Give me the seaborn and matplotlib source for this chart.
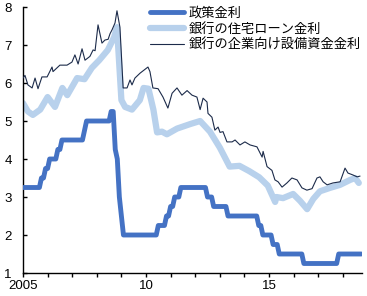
import numpy as np
import pandas as pd
import matplotlib
matplotlib.use("Agg")
import matplotlib.pyplot as plt
import seaborn as sns

# ---- data ----
labels = ["政策金利", "銀行の住宅ローン金利", "銀行の企業向け設備資金金利"]

# policy rate, monthly from Jan 2005 to Oct 2018
policy_rate = (
    [3.25] * 9 + [3.50, 3.50, 3.75] +                      # 2005
    [3.75, 4.00, 4.00, 4.00, 4.00, 4.25, 4.25] + [4.50] * 5 +  # 2006
    [4.50] * 6 + [4.75] + [5.00] * 5 +                      # 2007
    [5.00] * 7 + [5.25, 5.25, 4.25, 4.00, 3.00] +           # 2008
    [2.50] + [2.00] * 11 +                                  # 2009
    [2.00] * 6 + [2.25] * 4 + [2.50] * 2 +                  # 2010
    [2.75] * 2 + [3.00] * 3 + [3.25] * 7 +                  # 2011
    [3.25] * 6 + [3.00] * 3 + [2.75] * 3 +                  # 2012
    [2.75] * 4 + [2.50] * 8 +                               # 2013
    [2.50] * 7 + [2.25] * 2 + [2.00] * 3 +                  # 2014
    [2.00] * 2 + [1.75] * 3 + [1.50] * 7 +                  # 2015
    [1.50] * 5 + [1.25] * 7 +                               # 2016
    [1.25] * 10 + [1.50] * 2 +                              # 2017
    [1.50] * 10                                             # 2018
)

mortgage_year = [2005.0, 2005.2, 2005.4, 2005.7, 2006.0, 2006.3, 2006.6, 2006.8,
                 2007.2, 2007.5, 2007.8, 2008.1, 2008.45, 2008.7, 2008.82, 2009.0,
                 2009.15, 2009.43, 2009.75, 2009.9, 2010.1, 2010.3, 2010.45, 2010.65,
                 2010.85, 2011.26, 2011.8, 2012.2, 2012.6, 2013.0, 2013.4, 2013.8,
                 2014.2, 2014.6, 2014.95, 2015.25, 2015.3, 2015.57, 2015.98, 2016.26,
                 2016.55, 2016.8, 2017.07, 2017.48, 2017.89, 2018.3, 2018.5, 2018.65]
mortgage_rate = [5.47, 5.25, 5.16, 5.30, 5.63, 5.37, 5.87, 5.68,
                 6.13, 6.10, 6.40, 6.60, 6.87, 7.20, 7.47, 5.55,
                 5.37, 5.30, 5.55, 5.87, 5.85, 5.30, 4.70, 4.72,
                 4.65, 4.80, 4.92, 5.00, 4.72, 4.30, 3.80, 3.82,
                 3.68, 3.52, 3.30, 2.87, 3.00, 2.97, 3.08, 2.90,
                 2.68, 2.95, 3.15, 3.24, 3.32, 3.45, 3.50, 3.37]

corp_year = [2005.00, 2005.08, 2005.20, 2005.37, 2005.49, 2005.61, 2005.77, 2005.98,
             2006.18, 2006.22, 2006.50, 2006.79, 2006.99, 2007.11, 2007.24, 2007.40,
             2007.52, 2007.72, 2007.85, 2007.93, 2008.05, 2008.21, 2008.33, 2008.46,
             2008.54, 2008.62, 2008.74, 2008.82, 2008.94, 2009.07, 2009.23, 2009.35,
             2009.43, 2009.55, 2009.76, 2010.08, 2010.16, 2010.28, 2010.49, 2010.69,
             2010.89, 2011.06, 2011.26, 2011.46, 2011.67, 2011.87, 2012.07, 2012.20,
             2012.32, 2012.48, 2012.52, 2012.68, 2012.80, 2012.93, 2013.01, 2013.13,
             2013.29, 2013.50, 2013.62, 2013.82, 2014.02, 2014.23, 2014.51, 2014.72,
             2014.76, 2014.92, 2015.12, 2015.24, 2015.37, 2015.53, 2015.73, 2015.93,
             2016.14, 2016.34, 2016.54, 2016.75, 2016.95, 2017.07, 2017.20, 2017.36,
             2017.60, 2017.89, 2018.09, 2018.21, 2018.41, 2018.58, 2018.70]
corp_rate = [6.13, 6.20, 5.95, 5.87, 6.13, 5.85, 6.16, 6.16,
             6.42, 6.30, 6.47, 6.47, 6.55, 6.74, 6.50, 6.90,
             6.60, 6.70, 6.87, 6.85, 7.53, 7.05, 7.13, 7.15,
             7.30, 7.40, 7.58, 7.90, 7.47, 5.87, 5.87, 6.08,
             5.95, 6.13, 6.26, 6.42, 6.30, 5.87, 5.85, 5.63,
             5.34, 5.73, 5.87, 5.68, 5.80, 5.68, 5.63, 5.30,
             5.60, 5.50, 5.20, 5.10, 4.76, 4.84, 4.70, 4.72,
             4.45, 4.45, 4.50, 4.37, 4.45, 4.37, 4.32, 4.05,
             4.20, 3.80, 3.70, 3.45, 3.40, 3.26, 3.37, 3.50,
             3.45, 3.24, 3.18, 3.22, 3.50, 3.53, 3.40, 3.32,
             3.37, 3.40, 3.76, 3.63, 3.58, 3.53, 3.55]

x_ticks = list(range(2005, 2019))
x_tick_labels = ["2005", "", "", "", "", "10", "", "", "", "", "15", "", "", ""]
y_ticks = [1, 2, 3, 4, 5, 6, 7, 8]

# ---- style ----
sns.set_theme(style="white")
plt.rcParams["font.family"] = ["Liberation Sans", "Noto Sans CJK JP"]

policy_df = pd.DataFrame({"year": 2005 + np.arange(len(policy_rate)) / 12.0,
                          "rate": policy_rate})
mort_df = pd.DataFrame({"year": mortgage_year, "rate": mortgage_rate})
corp_df = pd.DataFrame({"year": corp_year, "rate": corp_rate})

fig = plt.figure(figsize=(3.67, 2.96), dpi=100)
ax = fig.add_axes([23 / 367, 1 - 273 / 296, (362 - 23) / 367, (273 - 7) / 296])

c_policy = "#4472C4"
c_mort = "#B8D1EC"
c_corp = "#1C2B4A"

sns.lineplot(data=mort_df, x="year", y="rate", ax=ax, color=c_mort, linewidth=4.5,
             label=labels[1], zorder=2)
sns.lineplot(data=corp_df, x="year", y="rate", ax=ax, color=c_corp, linewidth=0.8,
             label=labels[2], zorder=3)
sns.lineplot(data=policy_df, x="year", y="rate", ax=ax, color=c_policy, linewidth=3.5,
             label=labels[0], zorder=4)

ax.set_xlim(2005, 2018.78)
ax.set_ylim(1, 8)
ax.set_xticks(x_ticks)
ax.set_xticklabels(x_tick_labels)
ax.set_yticks(y_ticks)
ax.set_xlabel("")
ax.set_ylabel("")

for s in ["top", "right"]:
    ax.spines[s].set_visible(False)
for s in ["left", "bottom"]:
    ax.spines[s].set_color("black")
    ax.spines[s].set_linewidth(1.0)

ax.tick_params(axis="x", direction="out", length=3, width=1, color="black",
               labelsize=9.5, pad=2, labelcolor="black")
ax.tick_params(axis="y", direction="in", length=3, width=1, color="black",
               labelsize=9.5, pad=8, labelcolor="black")
ax.tick_params(bottom=True, left=True)

handles, lbls = ax.get_legend_handles_labels()
order = [lbls.index(l) for l in labels]
leg = ax.legend([handles[i] for i in order], [lbls[i] for i in order],
                loc="upper left", bbox_to_anchor=(150 / 367, 1 - 7 / 296),
                bbox_transform=fig.transFigure, frameon=False, fontsize=9.5,
                handlelength=2.6, handletextpad=0.3, labelspacing=0.22,
                borderpad=0, borderaxespad=0)
for t in leg.get_texts():
    t.set_color("black")

fig.savefig("out.png", dpi=100)
